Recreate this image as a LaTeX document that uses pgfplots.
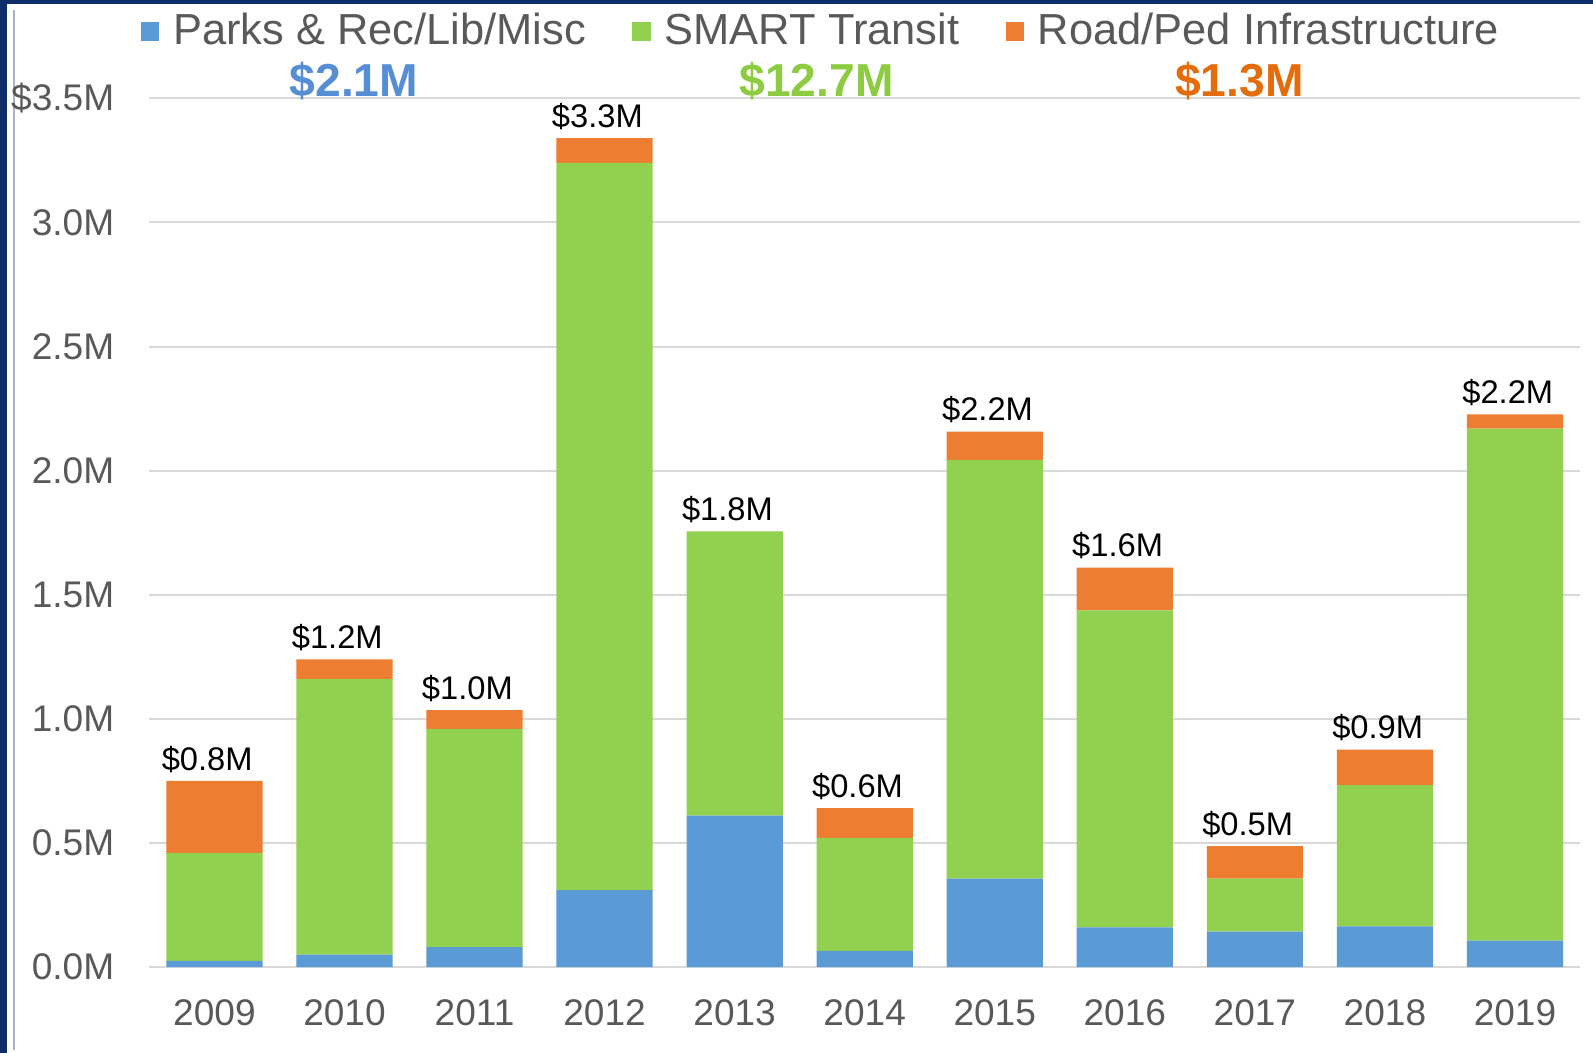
\documentclass[border=0pt]{standalone}
\usepackage{fontspec}
\setmainfont{Liberation Sans}
\usepackage{pgfplots}
\usepackage{pgfplotstable}
\pgfplotsset{compat=1.18}

\definecolor{parks}{HTML}{5B9BD5}
\definecolor{smart}{HTML}{92D050}
\definecolor{road}{HTML}{ED7D31}
\definecolor{parkstxt}{HTML}{558ED5}
\definecolor{smarttxt}{HTML}{8DCB41}
\definecolor{roadtxt}{HTML}{E46C0A}
\definecolor{ticktxt}{HTML}{595959}
\definecolor{gridgray}{HTML}{D9D9D9}
\definecolor{frameblue}{HTML}{0F2D6B}
\definecolor{edgegray}{HTML}{A9B4C8}

% values in $M; top = height of the whole bar
\pgfplotstableread{
x  parks  smart  road   top    total
0  0.025  0.435  0.290  0.750  0.8
1  0.050  1.110  0.080  1.240  1.2
2  0.080  0.880  0.075  1.035  1.0
3  0.310  2.930  0.100  3.340  3.3
4  0.610  1.145  0.000  1.755  1.8
5  0.065  0.455  0.120  0.640  0.6
6  0.356  1.687  0.114  2.157  2.2
7  0.160  1.277  0.172  1.609  1.6
8  0.143  0.213  0.131  0.487  0.5
9  0.164  0.569  0.143  0.876  0.9
10 0.106  2.063  0.058  2.227  2.2
}\funding

\pgfplotsset{chartframe/.style={
    scale only axis,
    width=357.65bp, height=217.15bp,
    xmin=-0.5, xmax=10.5, ymin=0, ymax=3.5,
    clip=false,
}}

\begin{document}
\begin{tikzpicture}
% slide frame
\path[use as bounding box] (-37.35bp,-21.5bp) rectangle (360.9bp,241.75bp);
\fill[white] (-37.35bp,-21.5bp) rectangle (360.9bp,241.75bp);
\fill[frameblue] (-37.35bp,-21.5bp) rectangle (-35.6bp,241.75bp);
\fill[frameblue] (-37.35bp,240.75bp) rectangle (360.9bp,241.75bp);
\fill[edgegray] (-34.1bp,-20.75bp) rectangle (-33.6bp,239.25bp);

\begin{axis}[
    chartframe,
    ybar stacked, bar width=0.74,
    xtick={0,1,2,3,4,5,6,7,8,9,10},
    xticklabels={2009,2010,2011,2012,2013,2014,2015,2016,2017,2018,2019},
    ytick={0,0.5,1,1.5,2,2.5,3,3.5},
    yticklabels={0.0M,0.5M,1.0M,1.5M,2.0M,2.5M,3.0M,\$3.5M},
    axis line style={draw=none},
    tick style={draw=none},
    major tick length=0pt,
    ymajorgrids,
    grid style={draw=gridgray, line width=0.5bp},
    ticklabel style={text=ticktxt, font=\fontsize{9.3}{11}\selectfont},
    yticklabel style={anchor=east, inner sep=0pt, xshift=-8.6bp},
    xticklabel style={anchor=north, inner sep=0pt, yshift=-7.9bp},
    legend style={at={(-0.0065,1.077)}, anchor=west, draw=none, fill=none,
        inner sep=0pt, legend columns=-1,
        font=\fontsize{10.9}{12}\selectfont, text=ticktxt,
        /tikz/every odd column/.append style={column sep=1.5bp},
        /tikz/every even column/.append style={column sep=9.6bp}},
    legend image code/.code={\fill[#1] (0bp,-2.3bp) rectangle (4.6bp,2.3bp);},
]
\addplot[fill=parks, draw=none] table[x=x, y=parks] {\funding};
\addplot[fill=smart, draw=none] table[x=x, y=smart] {\funding};
\addplot[fill=road, draw=none] table[x=x, y=road] {\funding};
\legend{Parks \& Rec/Lib/Misc, SMART Transit, Road/Ped Infrastructure}

% category totals
\node[anchor=base, text=parkstxt, font=\bfseries\fontsize{11.6}{13}\selectfont]
    at (rel axis cs:0.143,1.002) {\$2.1M};
\node[anchor=base, text=smarttxt, font=\bfseries\fontsize{11.6}{13}\selectfont]
    at (rel axis cs:0.4663,1.002) {\$12.7M};
\node[anchor=base, text=roadtxt, font=\bfseries\fontsize{11.6}{13}\selectfont]
    at (rel axis cs:0.762,1.002) {\$1.3M};
\end{axis}

% yearly totals above the bars, same frame without stacking
\begin{axis}[chartframe, hide axis]
\addplot[draw=none, mark=none,
    point meta=explicit symbolic,
    nodes near coords={\$\pgfplotspointmeta M},
    every node near coord/.append style={anchor=base, inner sep=0pt,
        yshift=2.7bp, xshift=-1.8bp, text=black,
        font=\fontsize{8.2}{10}\selectfont}]
    table[x=x, y=top, meta=total] {\funding};
\end{axis}
\end{tikzpicture}
\end{document}
